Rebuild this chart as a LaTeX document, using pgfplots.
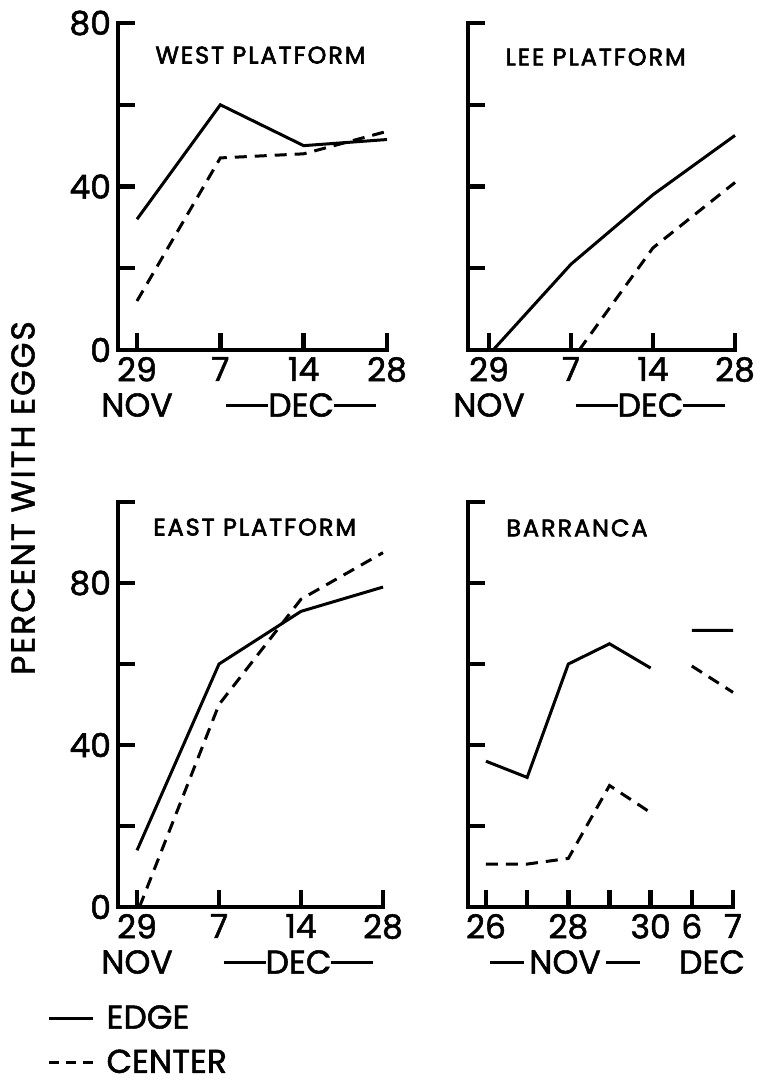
\documentclass[border=0pt]{standalone}
\usepackage{fontspec}
\setmainfont{Poppins}[FakeBold=1.6]
\newfontfamily\titfam{Poppins}[LetterSpace=8, FakeBold=2.6]
\usepackage{pgfplots}
\pgfplotsset{compat=1.18}
\newcommand{\bigf}{\fontsize{16.5}{18}\selectfont}
\newcommand{\titf}{\titfam\fontsize{12}{14}\selectfont}
\newcommand{\hr}[1]{\rule[5pt]{#1}{1.5pt}}
\pgfplotsset{
  panel/.style={
    scale only axis, anchor=south west,
    axis lines=left, axis line style={-, line width=2.3pt, line cap=rect},
    tick align=inside, major tick length=8.5pt,
    tick style={line width=2.2pt, black},
    xtick pos=left, ytick pos=left,
    ymin=0, clip=false,
    ticklabel style={font=\bigf},
    every axis plot/.append style={line width=1.5pt, black, mark=none},
  },
  edge/.style={solid},
  center/.style={dash pattern=on 6pt off 4pt},
}
\begin{document}
\begin{tikzpicture}
\path[use as bounding box] (0,0) rectangle (378pt,-541.5pt);

% WEST PLATFORM
\begin{axis}[panel, at={(59pt,-175pt)}, width=134.5pt, height=163.5pt,
  xmin=-0.228, xmax=3, ymax=80,
  xtick={0,1,2,3}, xticklabels={29,7,14,28},
  ytick={0,20,40,60,80}, yticklabels={0,,40,,80}]
\addplot[edge] coordinates {(0,32) (1,60) (2,50) (3,51.5)};
\addplot[center] coordinates {(0,12) (1,47) (2,48) (3,53.5)};
\node[anchor=west, inner sep=0pt, font=\titf] at (axis description cs:0.138,0.902) {WEST PLATFORM};
\node[font=\bigf] at ([yshift=-27.5pt]axis cs:0,0) {NOV};
\node[font=\bigf] at ([yshift=-27.5pt]axis cs:1.97,0) {\hr{21pt}DEC\hr{21pt}};
\end{axis}

% LEE PLATFORM
\begin{axis}[panel, at={(234pt,-175pt)}, width=133.5pt, height=163.5pt,
  xmin=-0.256, xmax=3, ymax=80,
  xtick={0,1,2,3}, xticklabels={29,7,14,28},
  ytick={0,20,40,60,80}, yticklabels={}]
\addplot[edge] coordinates {(0.05,0) (1,21) (2,38) (3,52.5)};
\addplot[center] coordinates {(1.1,0) (2,25) (3,41)};
\node[anchor=west, inner sep=0pt, font=\titf] at (axis description cs:0.139,0.896) {LEE PLATFORM};
\node[font=\bigf] at ([yshift=-27.5pt]axis cs:0,0) {NOV};
\node[font=\bigf] at ([yshift=-27.5pt]axis cs:1.97,0) {\hr{21pt}DEC\hr{21pt}};
\end{axis}

% EAST PLATFORM
\begin{axis}[panel, at={(59pt,-453.5pt)}, width=132.5pt, height=202.5pt,
  xmin=-0.232, xmax=3, ymax=100,
  xtick={0,1,2,3}, xticklabels={29,7,14,28},
  ytick={0,20,40,60,80,100}, yticklabels={0,,40,,80,},
  legend style={at={(-0.29,-0.222)}, anchor=north west, draw=none, fill=none,
    font=\bigf, row sep=5pt, cells={anchor=west}},
  legend image code/.code={\draw[#1] (0pt,0pt) -- (22pt,0pt); \path (26pt,0pt);}]
\addplot[edge] coordinates {(0,14) (1,60) (2,73) (3,79)};
\addlegendentry{EDGE}
\addplot[center, legend image post style={dash pattern=on 5pt off 3.5pt}] coordinates {(0.03,0) (1,50) (2,76) (3,87.5)};
\addlegendentry{CENTER}
\node[anchor=west, inner sep=0pt, font=\titf] at (axis description cs:0.132,0.938) {EAST PLATFORM};
\node[font=\bigf] at ([yshift=-27.5pt]axis cs:0,0) {NOV};
\node[font=\bigf] at ([yshift=-27.5pt]axis cs:1.97,0) {\hr{21pt}DEC\hr{21pt}};
\end{axis}

% BARRANCA
\begin{axis}[panel, at={(234pt,-453.5pt)}, width=132.5pt, height=202.5pt,
  xmin=-0.437, xmax=6, ymax=100, unbounded coords=jump,
  xtick={0,1,2,3,4,5,6}, xticklabels={26,,28,,30,6,7},
  ytick={0,20,40,60,80,100}, yticklabels={}]
\addplot[edge] coordinates {(0,36) (1,32) (2,60) (3,65) (4,59) (4.5,nan) (5,68.3) (6,68.3)};
\addplot[center] coordinates {(0,10.6) (1,10.6) (2,12) (3,30) (4,23.3) (4.5,nan) (5,59.5) (6,53)};
\node[anchor=west, inner sep=0pt, font=\titf] at (axis description cs:0.143,0.936) {BARRANCA};
\node[font=\bigf] at ([yshift=-27.5pt]axis cs:1.92,0) {\hr{17pt}\,NOV\,\hr{17pt}};
\node[font=\bigf] at ([yshift=-27.5pt]axis cs:5.49,0) {DEC};
\end{axis}

\node[rotate=90, font=\fontsize{16.5}{18}\selectfont\addfontfeatures{LetterSpace=6}] at (11.5pt,-249pt) {PERCENT WITH EGGS};
\end{tikzpicture}
\end{document}
